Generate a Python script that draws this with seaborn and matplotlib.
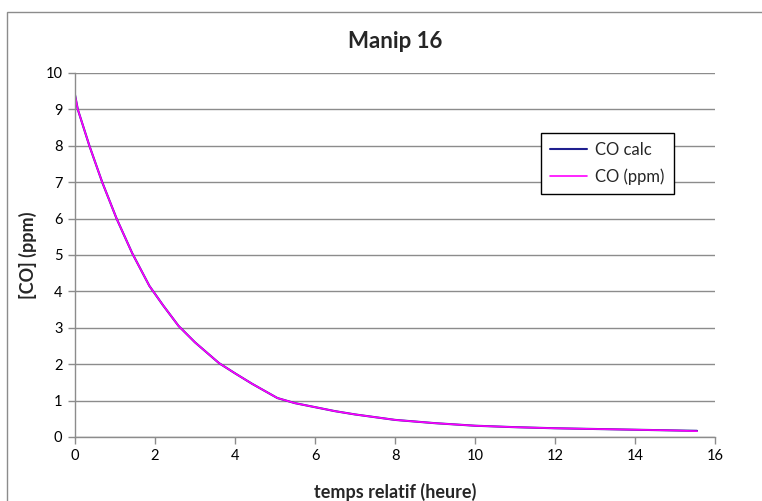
import matplotlib
matplotlib.use("Agg")
import matplotlib.pyplot as plt
import seaborn as sns
import pandas as pd
from matplotlib.patches import Rectangle

# Data
temps = [0.0, 0.07, 0.36, 0.68, 1.04, 1.43, 1.86, 2.2, 2.59, 3.0, 3.6, 4.0, 4.43, 5.06, 5.5,
         6.0, 6.5, 7.0, 7.6, 8.0, 9.0, 10.0, 11.0, 12.0, 13.0, 14.0, 15.0, 15.55]
co_calc = [9.4, 9.0, 8.0, 7.0, 6.0, 5.05, 4.15, 3.62, 3.05, 2.6, 2.03, 1.75, 1.46, 1.07, 0.93,
           0.82, 0.71, 0.62, 0.53, 0.47, 0.38, 0.31, 0.27, 0.24, 0.22, 0.2, 0.18, 0.17]
co_ppm = [9.4, 9.0, 8.0, 7.0, 6.0, 5.05, 4.15, 3.62, 3.05, 2.6, 2.03, 1.75, 1.46, 1.07, 0.93,
          0.82, 0.71, 0.62, 0.53, 0.47, 0.38, 0.31, 0.27, 0.24, 0.22, 0.2, 0.18, 0.16]
x_ticks = [0, 2, 4, 6, 8, 10, 12, 14, 16]
y_ticks = [0, 1, 2, 3, 4, 5, 6, 7, 8, 9, 10]

sns.set_style("white")
plt.rcParams['font.family'] = ['Lato', 'DejaVu Sans']

fig = plt.figure(figsize=(7.62, 5.01), dpi=100)
ax = fig.add_axes([75/762, 64/501, 640/762, 364/501])

df = pd.DataFrame({"t": temps, "calc": co_calc, "ppm": co_ppm})
sns.lineplot(data=df, x="t", y="calc", ax=ax, color="#1f1f8f", lw=1.5, label="CO calc")
sns.lineplot(data=df, x="t", y="ppm", ax=ax, color="#ff00ff", lw=1.2, label="CO (ppm)")

ax.set_xlim(0, 16)
ax.set_ylim(0, 10)
ax.set_xticks(x_ticks)
ax.set_yticks(y_ticks)
ax.yaxis.grid(True, color="#8c8c8c", lw=1)
ax.xaxis.grid(False)
for s in ["top", "right"]:
    ax.spines[s].set_visible(False)
for s in ["left", "bottom"]:
    ax.spines[s].set_color("#8c8c8c")
    ax.spines[s].set_linewidth(1)
ax.tick_params(axis="both", direction="out", length=5, width=1, color="#8c8c8c",
               labelsize=10.5, labelcolor="black", pad=4, left=True, bottom=True)

ax.set_title("Manip 16", fontsize=16, fontweight="bold", pad=18)
ax.set_xlabel("temps relatif (heure)", fontsize=13, fontweight="bold", labelpad=14)
ax.set_ylabel("[CO] (ppm)", fontsize=13, fontweight="bold", labelpad=6)

leg = ax.legend(loc="upper left", bbox_to_anchor=(0.728, 0.835), fontsize=12,
                frameon=True, fancybox=False, edgecolor="black", framealpha=1,
                handlelength=2.2, handletextpad=0.5, borderpad=0.55, labelspacing=0.6,
                borderaxespad=0)
leg.get_frame().set_linewidth(1)

fig.patches.append(Rectangle((7/762, -0.1), 1.2, 1.1 - 12/501, transform=fig.transFigure,
                             fill=False, edgecolor="#8c8c8c", lw=1))

fig.savefig("out.png", dpi=100)
